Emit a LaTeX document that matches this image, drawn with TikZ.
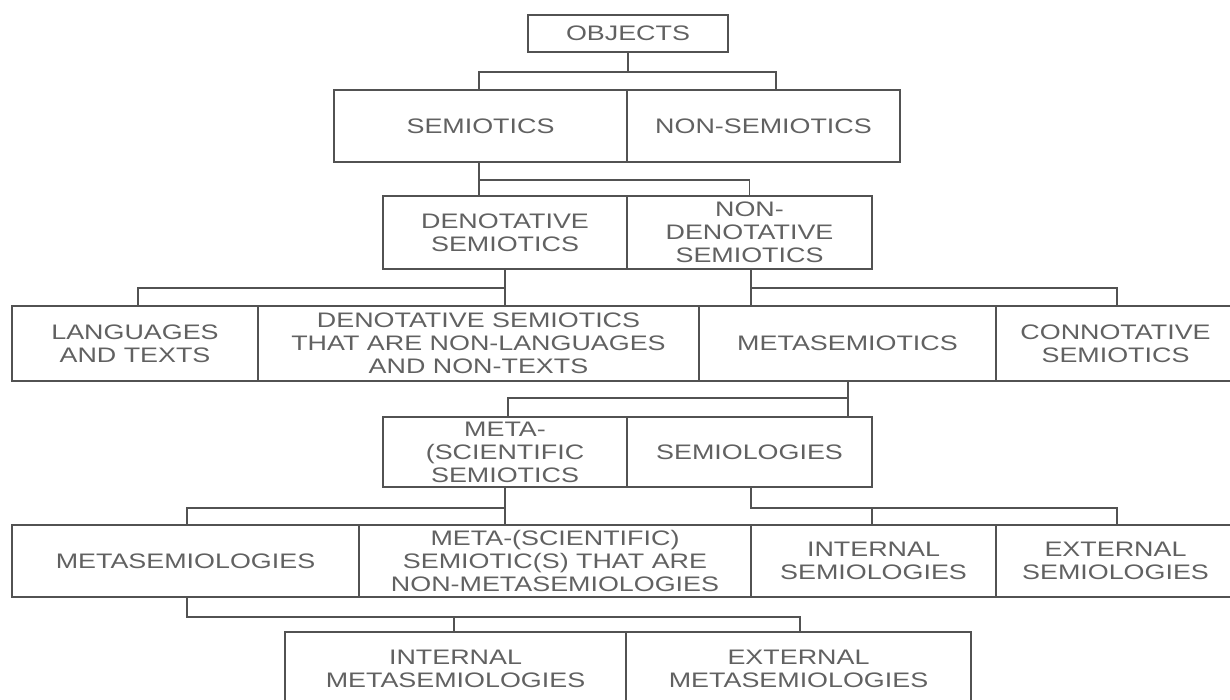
\documentclass[tikz,border=0pt]{standalone}
\usepackage{fontspec}
\setmainfont{Liberation Sans}[FakeStretch=1.28]
\newcommand{\pxu}{0.5pt}
\begin{document}
\begin{tikzpicture}[x=0.5pt,y=-0.5pt,
  cell/.style={draw=black!68, line width=0.9pt, inner sep=0pt, align=center,
    text=black!62, font=\fontsize{10.5}{11.5}\selectfont},
  link/.style={draw=black!68, line width=0.9pt}]
\useasboundingbox (0,0) rectangle (1230,700);
\clip (0,0) rectangle (1230,700);
% row 1
\node[cell, minimum width=200*\pxu, minimum height=37*\pxu] (obj) at (628,33.5) {OBJECTS};
% row 2
\node[cell, minimum width=293*\pxu, minimum height=72*\pxu] (sem) at (480.5,126) {SEMIOTICS};
\node[cell, minimum width=273*\pxu, minimum height=72*\pxu] (nsem) at (763.5,126) {NON-SEMIOTICS};
% row 3
\node[cell, minimum width=244*\pxu, minimum height=73*\pxu] (den) at (505,232.5) {DENOTATIVE\\SEMIOTICS};
\node[cell, minimum width=245*\pxu, minimum height=73*\pxu] (nden) at (749.5,232.5) {NON-\\DENOTATIVE\\SEMIOTICS};
% row 4
\node[cell, minimum width=246*\pxu, minimum height=75*\pxu] (lang) at (135,343.5) {LANGUAGES\\AND TEXTS};
\node[cell, minimum width=441*\pxu, minimum height=75*\pxu] (dsnl) at (478.5,343.5) {DENOTATIVE SEMIOTICS\\THAT ARE NON-LANGUAGES\\AND NON-TEXTS};
\node[cell, minimum width=297*\pxu, minimum height=75*\pxu] (meta) at (847.5,343.5) {METASEMIOTICS};
\node[cell, minimum width=239*\pxu, minimum height=75*\pxu] (conn) at (1115.5,343.5) {CONNOTATIVE\\SEMIOTICS};
% row 5
\node[cell, minimum width=244*\pxu, minimum height=70*\pxu] (msci) at (505,452) {META-\\(SCIENTIFIC\\SEMIOTICS};
\node[cell, minimum width=245*\pxu, minimum height=70*\pxu] (semiol) at (749.5,452) {SEMIOLOGIES};
% row 6
\node[cell, minimum width=347*\pxu, minimum height=72*\pxu] (msemiol) at (185.5,561) {METASEMIOLOGIES};
\node[cell, minimum width=392*\pxu, minimum height=72*\pxu] (mnon) at (555,561) {META-(SCIENTIFIC)\\SEMIOTIC(S) THAT ARE\\NON-METASEMIOLOGIES};
\node[cell, minimum width=245*\pxu, minimum height=72*\pxu] (isem) at (873.5,561) {INTERNAL\\SEMIOLOGIES};
\node[cell, minimum width=239*\pxu, minimum height=72*\pxu] (esem) at (1115.5,561) {EXTERNAL\\SEMIOLOGIES};
% row 7
\node[cell, minimum width=341*\pxu, minimum height=73*\pxu] (imeta) at (455.5,668.5) {INTERNAL\\METASEMIOLOGIES};
\node[cell, minimum width=345*\pxu, minimum height=73*\pxu] (emeta) at (798.5,668.5) {EXTERNAL\\METASEMIOLOGIES};
% connectors
\coordinate (t1) at (628,72);
\draw[link] (obj.south) -- (t1);
\draw[link] (sem.north -| 479,0) |- (t1) -| (nsem.north -| 776,0);
\coordinate (t2) at (479,180);
\draw[link] (sem.south -| 479,0) -- (den.north -| 479,0);
\draw[link] (t2) -| (nden.north);
\coordinate (t3) at (505,288);
\draw[link] (den.south) -- (dsnl.north -| 505,0);
\draw[link] (t3) -| (lang.north -| 138,0);
\coordinate (t4) at (751,288);
\draw[link] (nden.south -| 751,0) -- (meta.north -| 751,0);
\draw[link] (t4) -| (conn.north -| 1117,0);
\coordinate (t5) at (848,398);
\draw[link] (meta.south -| 848,0) -- (semiol.north -| 848,0);
\draw[link] (t5) -| (msci.north -| 508,0);
\coordinate (t6) at (505,508);
\draw[link] (msci.south) -- (mnon.north -| 505,0);
\draw[link] (t6) -| (msemiol.north -| 187,0);
\coordinate (t7) at (751,508);
\draw[link] (semiol.south -| 751,0) -- (t7) -| (esem.north -| 1117,0);
\draw[link] (872,508) -- (isem.north -| 872,0);
\coordinate (t8) at (187,617);
\draw[link] (msemiol.south -| 187,0) -- (t8) -| (emeta.north -| 800,0);
\draw[link] (imeta.north -| 454,0) -- (454,617);
\end{tikzpicture}
\end{document}
